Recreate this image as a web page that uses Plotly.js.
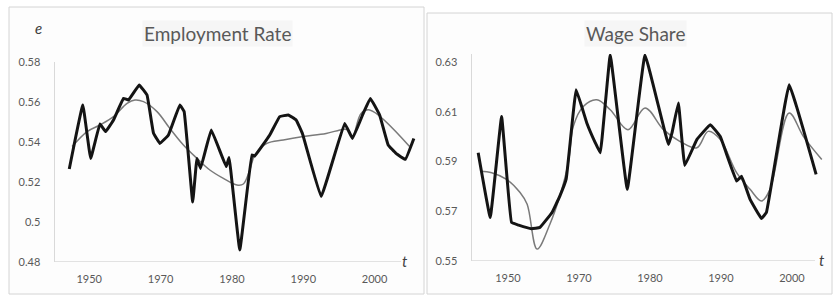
<!DOCTYPE html>
<html>
<head>
<meta charset="utf-8">
<script src="https://cdn.plot.ly/plotly-3.0.1.min.js"></script>
<style>
html,body{margin:0;padding:0;background:#fff;}
#chart{width:834px;height:296px;}
</style>
</head>
<body>
<div id="chart"></div>
<script>
// ---- Employment rate (left panel) ----
var empYears = [1957.2,1959.1,1960.2,1961.5,1962.3,1963.4,1964.8,1965.5,1967.0,1968.1,1969.0,1969.9,1971.1,1972.7,1973.3,1974.5,1975.1,1975.6,1977.1,1979.2,1979.6,1981.1,1982.8,1983.2,1985.3,1986.7,1987.9,1989.0,1989.9,1992.5,1995.8,1996.9,1998.4,1999.4,2000.7,2001.9,2003.0,2004.3,2005.5];
var empValues = [0.5265,0.5585,0.5318,0.549,0.5452,0.551,0.5618,0.561,0.5685,0.5635,0.5445,0.5393,0.5435,0.5585,0.5552,0.510,0.5318,0.5268,0.546,0.5277,0.5323,0.486,0.5335,0.533,0.5435,0.5527,0.5535,0.551,0.544,0.5127,0.5493,0.5418,0.5543,0.5618,0.5535,0.5385,0.5343,0.5313,0.5418];
var empTrendYears = [1957.6,1959.7,1961.5,1963.4,1965.3,1966.4,1967.6,1969.5,1971.3,1973.2,1975.1,1976.9,1978.8,1980.7,1981.6,1982.5,1983.2,1984.9,1987.2,1990.0,1993.2,1995.6,1996.3,1996.9,1998.1,1999.3,2004.9];
var empTrendValues = [0.5377,0.5452,0.5485,0.5527,0.5593,0.561,0.5602,0.5552,0.5468,0.5385,0.5318,0.526,0.5218,0.5185,0.519,0.526,0.5335,0.5393,0.541,0.5427,0.5443,0.5463,0.546,0.5425,0.5543,0.556,0.5377];

// ---- Wage share (right panel) ----
var wageYears = [1955.8,1957.5,1959.1,1960.5,1961.5,1963.3,1964.5,1966.2,1967.3,1968.2,1969.6,1971.1,1972.3,1973.0,1974.4,1976.8,1979.3,1982.6,1983.1,1984.0,1984.9,1986.6,1988.5,1989.9,1992.2,1992.9,1994.1,1995.7,1996.4,1999.6,2003.4];
var wageValues = [0.5935,0.5675,0.6081,0.5655,0.5644,0.563,0.5635,0.5695,0.5761,0.583,0.6188,0.6055,0.5975,0.5935,0.6328,0.5788,0.6328,0.5968,0.6015,0.6135,0.5884,0.5988,0.6048,0.600,0.5821,0.5841,0.5748,0.5671,0.5695,0.6208,0.5848];
var wageTrendYears = [1956.1,1957.7,1959.8,1961.7,1962.7,1964.1,1965.9,1967.3,1968.5,1969.2,1970.6,1972.5,1974.4,1976.9,1979.3,1981.9,1984.2,1986.6,1988.2,1989.9,1992.2,1994.1,1995.7,1996.9,1999.6,2001.6,2004.2];
var wageTrendValues = [0.5861,0.5855,0.5828,0.5775,0.5728,0.5548,0.5648,0.5761,0.5895,0.6041,0.6121,0.6148,0.6108,0.6028,0.6115,0.6028,0.5981,0.5955,0.6021,0.5988,0.5855,0.5788,0.5741,0.5788,0.6095,0.6001,0.5908];

// ---- Tick labels ----
var xTickPositions = [1960,1970,1980,1990,2000];
var xTickLabels = ["1950","1970","1980","1990","2000"];
var empTicks = [0.48,0.5,0.52,0.54,0.56,0.58];
var wageTicks = [0.55,0.57,0.59,0.61,0.63];

var W = 834, H = 296;
function px(x){return x/W;}
function py(y){return 1 - y/H;}

var dataLine = {color:'#141414', width:3, shape:'spline', smoothing:0.22};
var trendLine = {color:'#7a7a7a', width:1.5, shape:'spline', smoothing:1};

var traces = [
  {x:empTrendYears, y:empTrendValues, type:'scatter', mode:'lines', line:trendLine, xaxis:'x', yaxis:'y', hoverinfo:'skip'},
  {x:empYears, y:empValues, type:'scatter', mode:'lines', line:dataLine, xaxis:'x', yaxis:'y'},
  {x:wageTrendYears, y:wageTrendValues, type:'scatter', mode:'lines', line:trendLine, xaxis:'x2', yaxis:'y2', hoverinfo:'skip'},
  {x:wageYears, y:wageValues, type:'scatter', mode:'lines', line:dataLine, xaxis:'x2', yaxis:'y2'}
];

var tickFont = {family:'Lato, "Open Sans", sans-serif', size:11, color:'#595959'};
var axisCol = '#d9d9d9';

function xAxis(domain, range){
  return {domain:domain, range:range, tickvals:xTickPositions, ticktext:xTickLabels,
    showgrid:false, zeroline:false, showline:false, ticks:'', tickfont:tickFont,
    ticklabelstandoff:9, fixedrange:true};
}
function yAxis(domain, range, ticks, anchor){
  return {domain:domain, range:range, tickvals:ticks, ticktext:ticks.map(String),
    showgrid:false, zeroline:false, showline:true, linecolor:axisCol, linewidth:1.5,
    ticks:'', tickfont:tickFont, ticklabelstandoff:11, anchor:anchor, fixedrange:true};
}

var titleFont = {family:'Lato, "Open Sans", sans-serif', size:19, color:'#595959'};

var layout = {
  width:W, height:H,
  margin:{l:0,r:0,t:0,b:0},
  paper_bgcolor:'#ffffff', plot_bgcolor:'rgba(0,0,0,0)',
  showlegend:false,
  xaxis: xAxis([px(55), px(416)], [1955.2, 2005.8]),
  yaxis: yAxis([py(262), py(62)], [0.48, 0.58], empTicks, 'x'),
  xaxis2: Object.assign(xAxis([px(472), px(823)], [1954.93, 2004.37]), {anchor:'y2'}),
  yaxis2: yAxis([py(261), py(54)], [0.55, 0.6332], wageTicks, 'x2'),
  shapes: [
    {type:'rect', xref:'paper', yref:'paper', x0:px(9), x1:px(424), y0:py(294), y1:py(7), line:{color:'#d4d4d4', width:1}, fillcolor:'#fdfdfd', layer:'below'},
    {type:'rect', xref:'paper', yref:'paper', x0:px(427), x1:px(832), y0:py(294), y1:py(13), line:{color:'#d4d4d4', width:1}, fillcolor:'#fdfdfd', layer:'below'},
    {type:'line', xref:'paper', yref:'y', x0:px(55), x1:px(401), y0:0.48, y1:0.48, line:{color:axisCol, width:1.5}},
    {type:'line', xref:'paper', yref:'y2', x0:px(472), x1:px(815), y0:0.55, y1:0.55, line:{color:axisCol, width:1.5}}
  ],
  annotations: [
    {text:'Employment Rate', xref:'paper', yref:'paper', x:px(217), y:py(33), xanchor:'center', yanchor:'middle', showarrow:false, font:titleFont, bgcolor:'#f6f6f6'},
    {text:'Wage Share', xref:'paper', yref:'paper', x:px(635), y:py(33), xanchor:'center', yanchor:'middle', showarrow:false, font:titleFont, bgcolor:'#f6f6f6'},
    {text:'<i>e</i>', xref:'paper', yref:'paper', x:px(38), y:py(28), xanchor:'center', yanchor:'middle', showarrow:false, font:{family:'Lato, sans-serif', size:15, color:'#404040'}},
    {text:'<i>t</i>', xref:'paper', yref:'paper', x:px(405), y:py(261), xanchor:'center', yanchor:'middle', showarrow:false, font:{family:'Lato, sans-serif', size:15, color:'#404040'}},
    {text:'<i>t</i>', xref:'paper', yref:'paper', x:px(822), y:py(260), xanchor:'center', yanchor:'middle', showarrow:false, font:{family:'Lato, sans-serif', size:15, color:'#404040'}}
  ]
};

Plotly.newPlot('chart', traces, layout, {displayModeBar:false, staticPlot:true});
</script>
</body>
</html>
